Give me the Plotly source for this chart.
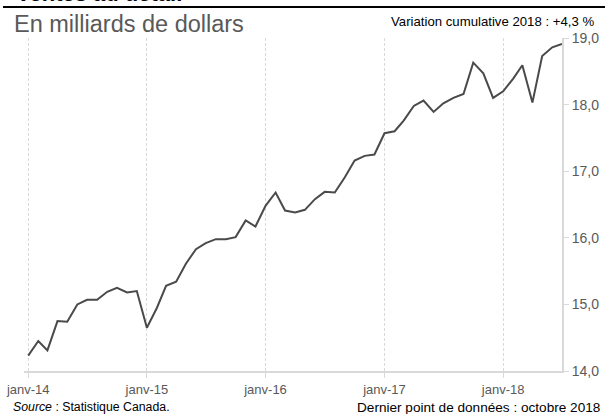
import plotly.graph_objects as go
import pandas as pd

# Ventes au détail, milliards de dollars (lecture du graphique)
months = pd.date_range("2014-01-01", periods=55, freq="MS")
sales = [
    14.23, 14.45, 14.31, 14.75, 14.74, 15.00, 15.07, 15.07, 15.19, 15.25, 15.18, 15.20,
    14.65, 14.95, 15.28, 15.34, 15.61, 15.83, 15.92, 15.98, 15.98, 16.01, 16.26, 16.17,
    16.48, 16.68, 16.41, 16.38, 16.42, 16.58, 16.69, 16.68, 16.91, 17.16, 17.23, 17.25,
    17.57, 17.60, 17.76, 17.98, 18.06, 17.89, 18.02, 18.10, 18.16, 18.63, 18.47, 18.10,
    18.20, 18.39, 18.59, 18.03, 18.73, 18.86, 18.91,
]
tick_dates = ["2014-01-01", "2015-01-01", "2016-01-01", "2017-01-01", "2018-01-01"]
tick_labels = ["janv-14", "janv-15", "janv-16", "janv-17", "janv-18"]
y_ticks = [14, 15, 16, 17, 18, 19]

FONT = "Liberation Sans"
GREY = "#595959"

# zone de tracé en pixels : x 24..562, y 38..371
L, R, T, B = 24, 43, 38, 43
PW, PH = 605 - L - R, 414 - T - B


def px(x):
    return (x - L) / PW


def py(y):
    return (414 - B - y) / PH


fig = go.Figure()
fig.add_trace(go.Scatter(x=months, y=sales, mode="lines",
                         line=dict(color="#4a4a4a", width=2),
                         showlegend=False, hoverinfo="x+y"))

fig.update_layout(
    width=605, height=414,
    margin=dict(l=L, r=R, t=T, b=B, autoexpand=False),
    plot_bgcolor="white", paper_bgcolor="white",
    separators=", ",
    font=dict(family=FONT, color=GREY, size=12),
    xaxis=dict(
        type="date", range=["2013-12-19", "2018-07-01"],
        tickvals=tick_dates, ticktext=tick_labels, automargin=False,
        showgrid=True, gridcolor="#d9d9d9", griddash="3px,2px", gridwidth=1,
        showline=True, linecolor="#d9d9d9", linewidth=2,
        ticks="outside", ticklen=5, tickcolor="#d9d9d9",
        tickfont=dict(size=13, color=GREY), zeroline=False,
    ),
    yaxis=dict(
        side="right", range=[14, 19], tickvals=y_ticks, tickformat=".1f",
        showgrid=False, zeroline=False, automargin=False,
        showline=True, linecolor="#d9d9d9", linewidth=2,
        ticks="outside", ticklen=5, tickcolor="#d9d9d9",
        tickfont=dict(size=14, color=GREY),
    ),
)

# filet noir sous le titre
fig.add_shape(type="line", xref="paper", yref="paper",
              x0=px(3), x1=px(606), y0=py(7), y1=py(7),
              line=dict(color="black", width=2))

fig.add_annotation(text="<b>Ventes au détail</b>", xref="paper", yref="paper",
                   x=px(14), y=py(-7), xanchor="left", yanchor="middle",
                   showarrow=False, font=dict(size=22, color="black", family=FONT))
fig.add_annotation(text="En milliards de dollars", xref="paper", yref="paper",
                   x=px(12), y=py(24), xanchor="left", yanchor="middle",
                   showarrow=False, font=dict(size=23.5, color=GREY, family=FONT))
fig.add_annotation(text="Variation cumulative 2018 : +4,3 %", xref="paper", yref="paper",
                   x=px(596), y=py(22), xanchor="right", yanchor="middle",
                   showarrow=False, font=dict(size=13.2, color="black", family=FONT))
fig.add_annotation(text="<i>Source</i> : Statistique Canada.", xref="paper", yref="paper",
                   x=px(11), y=py(407), xanchor="left", yanchor="middle",
                   showarrow=False, font=dict(size=12.3, color="black", family=FONT))
fig.add_annotation(text="Dernier point de données : octobre 2018", xref="paper", yref="paper",
                   x=px(602), y=py(407), xanchor="right", yanchor="middle",
                   showarrow=False, font=dict(size=13.6, color="black", family=FONT))

fig.write_html("out.html", config={"displayModeBar": False},
               post_script="document.body.style.margin='0';")
